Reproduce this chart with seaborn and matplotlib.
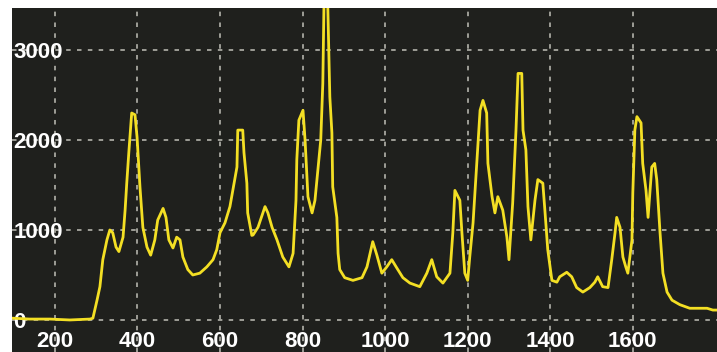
import numpy as np
import pandas as pd
import seaborn as sns
import matplotlib.pyplot as plt

# Raman shift (cm-1) and intensity
shift = [96, 139, 188, 236, 285, 292, 302, 309, 316, 326, 333, 340, 348, 355,
         365, 370, 374, 379, 386, 394, 399, 406, 413, 423, 432, 442, 449, 462,
         469, 476, 486, 495, 503, 510, 522, 534, 551, 568, 583, 592, 600, 612,
         624, 631, 641, 643, 655, 658, 665, 667, 677, 680, 692, 709, 716, 726,
         738, 752, 767, 777, 784, 786, 791, 801, 806, 810, 813, 823, 830, 837,
         844, 849, 852, 861, 866, 871, 873, 883, 886, 890, 902, 922, 944, 956,
         970, 980, 992, 1004, 1016, 1028, 1043, 1060, 1084, 1101, 1113, 1125,
         1140, 1157, 1164, 1169, 1181, 1186, 1193, 1200, 1205, 1213, 1222, 1230,
         1237, 1246, 1249, 1259, 1266, 1273, 1285, 1295, 1300, 1309, 1317, 1322,
         1331, 1334, 1341, 1346, 1353, 1363, 1370, 1382, 1387, 1394, 1404, 1416,
         1423, 1440, 1452, 1464, 1479, 1496, 1508, 1515, 1527, 1540, 1549, 1557,
         1561, 1569, 1576, 1583, 1588, 1598, 1600, 1605, 1610, 1620, 1624, 1632,
         1637, 1646, 1653, 1658, 1666, 1673, 1683, 1695, 1714, 1738, 1780, 1794,
         1804]
intensity = [20, 10, 10, 0, 10, 20, 220, 370, 670, 890, 1000, 970, 810, 760,
             920, 1220, 1520, 1860, 2300, 2280, 2030, 1480, 1030, 810, 720, 890,
             1110, 1240, 1140, 890, 800, 920, 890, 700, 560, 500, 520, 590, 670,
             780, 970, 1080, 1260, 1440, 1700, 2110, 2110, 1860, 1520, 1190, 940,
             944, 1030, 1260, 1190, 1030, 890, 700, 590, 740, 1330, 1780, 2220,
             2330, 2000, 1630, 1370, 1190, 1330, 1670, 2000, 2630, 3560, 3500,
             2480, 2080, 1480, 1140, 740, 560, 470, 440, 470, 590, 870, 720, 520,
             590, 670, 580, 470, 410, 370, 520, 670, 480, 410, 520, 970, 1440,
             1330, 970, 520, 440, 700, 1080, 1740, 2330, 2440, 2300, 1740, 1370,
             1190, 1370, 1220, 920, 670, 1300, 2110, 2740, 2740, 2110, 1890, 1260,
             890, 1330, 1560, 1520, 1220, 780, 440, 420, 480, 530, 480, 360, 310,
             360, 420, 480, 370, 360, 670, 970, 1140, 1030, 700, 590, 520, 890,
             1410, 2110, 2260, 2190, 1740, 1440, 1140, 1700, 1740, 1560, 970, 520,
             310, 220, 170, 130, 130, 110, 110]
x_ticks = [200, 400, 600, 800, 1000, 1200, 1400, 1600]
y_ticks = [0, 1000, 2000, 3000]

df = pd.DataFrame({"shift": shift, "intensity": intensity})

fig = plt.figure(figsize=(7.17, 3.52), dpi=100, facecolor="white")
ax = fig.add_axes([12 / 717, 0, 705 / 717, 344 / 352])
ax.set_facecolor("#1f201d")

sns.lineplot(data=df, x="shift", y="intensity", ax=ax, color="#f3df24",
             linewidth=2.0, zorder=3)

ax.set_xlim(96, 1804)
ax.set_ylim(-356, 3467)
ax.set_xticks(x_ticks)
ax.set_yticks(y_ticks)
ax.grid(True, color="#a8a8a0", linestyle=(0, (2.5, 3.5)), linewidth=1.3)
ax.set_xlabel("")
ax.set_ylabel("")
for s in ax.spines.values():
    s.set_visible(False)

ax.tick_params(axis="x", length=0, pad=-15, labelcolor="white", labelsize=16)
ax.tick_params(axis="y", length=0, pad=-1, labelcolor="white", labelsize=16)
for lbl in ax.get_xticklabels() + ax.get_yticklabels():
    lbl.set_fontfamily("Liberation Sans")
    lbl.set_fontweight("bold")
for lbl in ax.get_yticklabels():
    lbl.set_horizontalalignment("left")

fig.savefig("out.png", dpi=100, facecolor="white")
